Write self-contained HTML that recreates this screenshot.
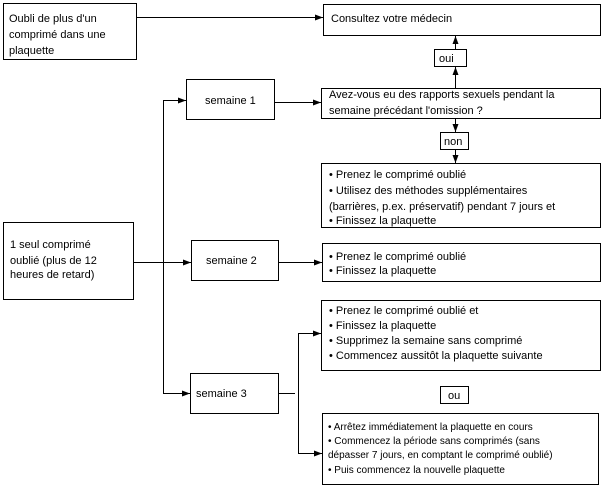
<!DOCTYPE html>
<html><head><meta charset="utf-8"><style>
html,body{margin:0;padding:0;background:#fff;width:601px;height:504px;overflow:hidden}
svg text{font-family:"Liberation Sans",Arial,sans-serif;font-size:11px;fill:#000}
.s text{font-size:10px}
</style></head><body>
<svg width="601" height="504" viewBox="0 0 601 504" xmlns="http://www.w3.org/2000/svg">
<defs><marker id="a" markerWidth="8" markerHeight="6" refX="8" refY="3" orient="auto" markerUnits="userSpaceOnUse"><path d="M0,0L8,3L0,6z" fill="#000"/></marker></defs>
<g fill="none" stroke="#000" stroke-width="1">
<rect x="3.5" y="3.5" width="133" height="56"/>
<rect x="323.5" y="4.5" width="277" height="31"/>
<rect x="434.5" y="49.5" width="32" height="17"/>
<rect x="186.5" y="79.5" width="88" height="40"/>
<rect x="321.5" y="88.5" width="279" height="30"/>
<rect x="440.5" y="132.5" width="28" height="17"/>
<rect x="321.5" y="163.5" width="279" height="64"/>
<rect x="3.5" y="222.5" width="130" height="77"/>
<rect x="191.5" y="240.5" width="87" height="40"/>
<rect x="322.5" y="243.5" width="278" height="38"/>
<rect x="321.5" y="300.5" width="279" height="70"/>
<rect x="190.5" y="373.5" width="88" height="40"/>
<rect x="440.5" y="386.5" width="28" height="17"/>
<rect x="322.5" y="413.5" width="276" height="71"/>
<g marker-end="url(#a)">
<path d="M137,17.5H323"/>
<path d="M455.5,88V67"/>
<path d="M455.5,49V36"/>
<path d="M163.5,100.5H186"/>
<path d="M275,102.5H321"/>
<path d="M455.5,119V132"/>
<path d="M455.5,150V163"/>
<path d="M134,262.5H191"/>
<path d="M279,262.5H322"/>
<path d="M163.5,393.5H190"/>
<path d="M298.5,333.5H321"/>
<path d="M298.5,453.5H322"/>
</g>
<path d="M163.5,100V394"/>
<path d="M279,393.5H295"/>
<path d="M298.5,333V454"/>
</g>
<text x="9" y="22">Oubli de plus d'un</text>
<text x="9" y="38">comprimé dans une</text>
<text x="9" y="54">plaquette</text>
<text x="331" y="22">Consultez votre médecin</text>
<text x="439" y="62">oui</text>
<text x="205" y="104">semaine 1</text>
<text x="329" y="98">Avez-vous eu des rapports sexuels pendant la</text>
<text x="329" y="114">semaine précédant l'omission ?</text>
<text x="444" y="145">non</text>
<text x="329" y="178">• Prenez le comprimé oublié</text>
<text x="329" y="194">• Utilisez des méthodes supplémentaires</text>
<text x="329" y="210">(barrières, p.ex. préservatif) pendant 7 jours et</text>
<text x="329" y="224">• Finissez la plaquette</text>
<text x="10" y="248">1 seul comprimé</text>
<text x="10" y="264">oublié (plus de 12</text>
<text x="10" y="278">heures de retard)</text>
<text x="206" y="264">semaine 2</text>
<text x="329" y="260">• Prenez le comprimé oublié</text>
<text x="329" y="274">• Finissez la plaquette</text>
<text x="329" y="314">• Prenez le comprimé oublié et</text>
<text x="329" y="329">• Finissez la plaquette</text>
<text x="329" y="344">• Supprimez la semaine sans comprimé</text>
<text x="329" y="359">• Commencez aussitôt la plaquette suivante</text>
<text x="196" y="397">semaine 3</text>
<text x="448" y="399">ou</text>
<g class="s">
<text x="328" y="430">• Arrêtez immédiatement la plaquette en cours</text>
<text x="328" y="444">• Commencez la période sans comprimés (sans</text>
<text x="328" y="458">dépasser 7 jours, en comptant le comprimé oublié)</text>
<text x="328" y="473">• Puis commencez la nouvelle plaquette</text>
</g>
</svg>
</body></html>
